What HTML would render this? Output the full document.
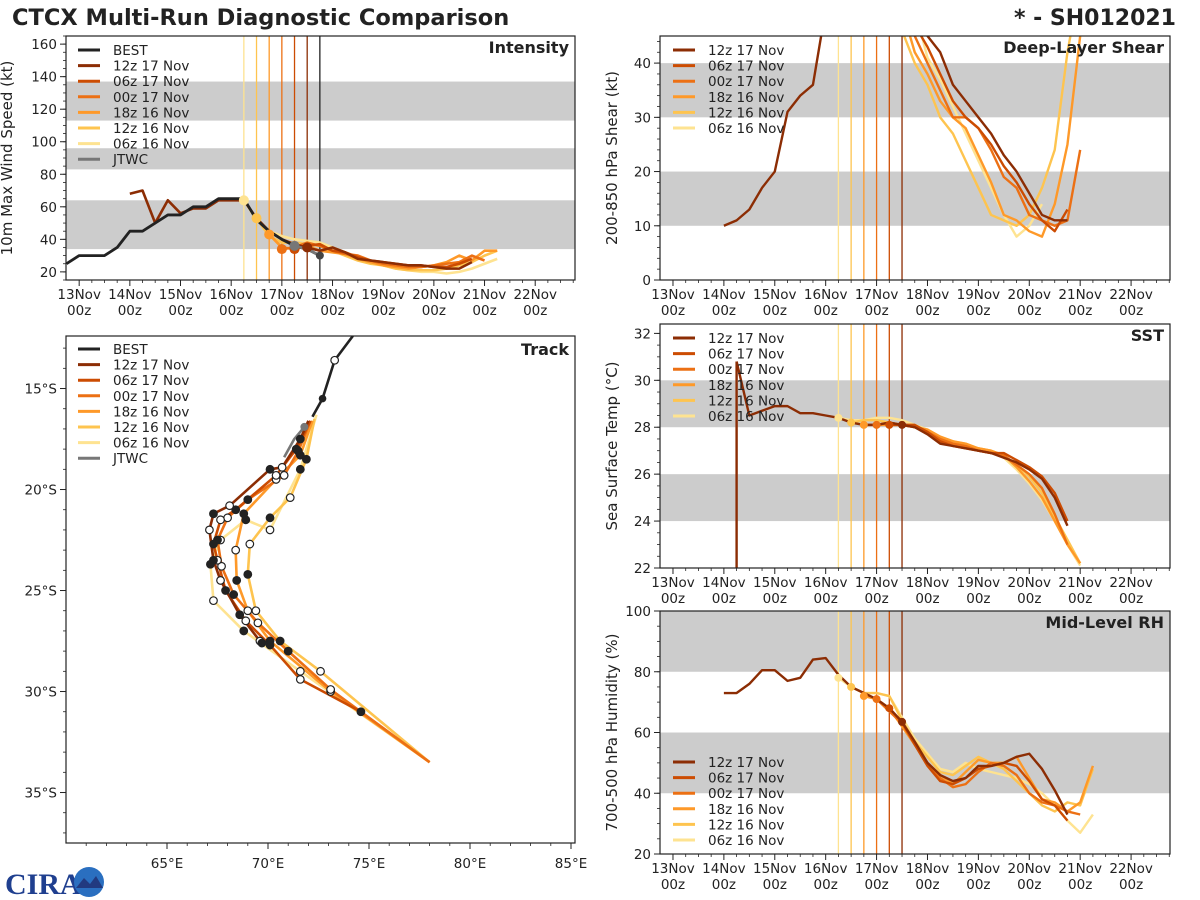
<!DOCTYPE html>
<html><head><meta charset="utf-8"><style>
html,body{margin:0;padding:0;background:#fff;}
svg{display:block;font-family:"DejaVu Sans","Liberation Sans",sans-serif;}
</style></head><body>
<svg id="chart" width="1200" height="900" viewBox="0 0 1200 900" xmlns="http://www.w3.org/2000/svg">
<text x="12" y="25" font-size="22.5" font-weight="bold" fill="#222">CTCX Multi-Run Diagnostic Comparison</text>
<text x="1176" y="25" font-size="22" font-weight="bold" fill="#222" text-anchor="end">* - SH012021</text>
<g id="logo">
<text x="5" y="894" font-size="30" font-weight="bold" fill="#1f3f8f" font-family="Liberation Serif, serif">CIRA</text>
<circle cx="89" cy="882" r="15" fill="#2a6fc0"/>
<path d="M76 888 L84 878 L90 884 L96 876 L103 888 Z" fill="#223a80"/>
</g>
</svg>
<script>
const runNames = ["12z 17 Nov","06z 17 Nov","00z 17 Nov","18z 16 Nov","12z 16 Nov","06z 16 Nov"];
const runColors = ["#8c2d04","#cc4c02","#ec7014","#fe9929","#fec44f","#fee391"];
const runInit = [17.5,17.25,17.0,16.75,16.5,16.25];
const dayLabels = ["13Nov","14Nov","15Nov","16Nov","17Nov","18Nov","19Nov","20Nov","21Nov","22Nov"];

const bestStart = 12.75;
const bestVmax = [25,30,30,30,35,45,45,50,55,55,60,60,65,65,65,52,45,40,36,34,30];
const jtwcStart = 17.25;
const jtwcVmax = [36,34,30];

const intStart = [14.0,17.25,17.0,16.75,16.5,16.25];
const int12z17 = [68,70,50,64,56,59,59,64,64,64,53,45,40,37,35,33,35,32,28,27,26,25,24,24,23,22,22,26];
const int06z17 = [34,36,37,33,32,29,27,26,25,24,24,23,23,25,28];
const int00z17 = [34,35,38,36,33,31,30,27,25,24,23,23,24,25,26,30,27];
const int18z16 = [43,35,34,36,33,32,31,28,26,24,23,22,23,24,26,30,27,33,33];
const int12z16 = [53,42,38,38,37,36,33,30,27,25,24,22,21,21,21,22,24,26,30,33];
const int06z16 = [64,52,45,42,40,39,38,35,32,29,26,24,22,21,20,20,19,20,22,25,28];

const shrStart = [14.0,17.25,17.0,16.75,16.5,16.25];
const shr12z17 = [10,11,13,17,20,31,34,36,50,60,60,60,60,60,60,60,45,42,36,33,30,27,23,20,16,12,11,11];
const shr06z17 = [60,55,47,43,38,33,30,28,25,21,18,14,11,9,13];
const shr00z17 = [60,60,55,45,40,35,30,30,28,24,19,17,12,11,10,11,24];
const shr18z16 = [60,60,60,50,42,38,33,30,28,23,18,12,11,9,8,14,25,45,55];
const shr12z16 = [60,60,60,60,46,40,36,30,27,22,17,12,11,10,12,17,24,42,55];
const shr06z16 = [60,60,60,60,60,60,50,41,37,32,27,22,17,12,8,10,14];

const sstSpike = [22.0,30.8];
const sstStart = [14.25,17.25,17.0,16.75,16.5,16.25];
const sst12z17 = [30.8,28.5,28.7,28.9,28.9,28.6,28.6,28.5,28.4,28.2,28.1,28.1,28.2,28.1,28.0,27.7,27.3,27.2,27.1,27.0,26.9,26.7,26.5,26.2,25.8,25.0,23.8];
const sst06z17 = [28.1,28.1,28.1,27.8,27.4,27.2,27.1,27.0,26.9,26.9,26.6,26.3,25.9,25.2,24.0];
const sst00z17 = [28.1,28.2,28.1,28.0,27.8,27.5,27.3,27.2,27.0,26.9,26.8,26.4,26.0,25.4,24.3,23.0];
const sst18z16 = [28.1,28.1,28.1,28.1,28.0,27.9,27.6,27.4,27.3,27.1,27.0,26.8,26.3,25.7,25.0,24.0,23.0,22.2];
const sst12z16 = [28.2,28.3,28.3,28.2,28.1,28.0,27.8,27.5,27.4,27.2,27.1,27.0,26.8,26.4,25.9,25.2,24.2,23.2,22.2];
const sst06z16 = [28.4,28.3,28.3,28.4,28.4,28.3,28.1,27.9,27.6,27.4,27.3,27.1,27.0,26.7,26.2,25.6,24.9,24.0,23.0,22.1];

const rhStart = [14.0,17.25,17.0,16.75,16.5,16.25];
const rh12z17 = [73,73,76,80.5,80.5,77,78,84,84.5,79,75,73,71,68,63.5,57,50,46,44,45,49,49,50,52,53,48,41,33];
const rh06z17 = [68,63.5,56,49,44,43,45,48,49,50,49,44,38,36,31];
const rh00z17 = [71,67,63,56,50,45,42,43,47,50,49,46,40,37,36,34,33];
const rh18z16 = [72,71,68,62,56,50,46,43,47,51,50,50,52,45,38,37,34,37,49];
const rh12z16 = [75,73,73,72,64,57,52,47,46,49,52,50,48,44,40,36,34,37,36,48];
const rh06z16 = [78,75,73,73,72,65,58,53,48,47,50,48,47,46,45,43,40,36,31,27,33];

const bestLon = [74.2,73.3,72.7,72.2];
const bestLat = [12.4,13.6,15.5,16.4];
const jtwcLon = [71.8,71.3,70.8];
const jtwcLat = [16.9,17.5,18.4];
const trk12z17Lon = [72.0,71.6,70.7,70.1,68.1,67.3,67.1,67.3,67.65,68.6,69.6,69.7];
const trk12z17Lat = [16.6,17.5,18.9,19.0,20.8,21.2,22.0,23.5,24.5,26.2,27.5,27.6];
const trk06z17Lon = [72.1,71.4,70.4,68.4,67.65,67.3,67.5,67.9,68.9,70.1,71.6,74.6];
const trk06z17Lat = [16.6,18.0,19.3,21.0,21.5,22.7,23.5,25.0,26.5,27.7,29.4,31.0];
const trk00z17Lon = [72.1,71.5,70.8,69.0,68.0,67.5,67.7,68.3,69.5,71.0,73.1,78.0];
const trk00z17Lat = [16.6,18.1,19.3,20.5,21.4,22.5,23.8,25.2,26.6,28.0,29.9,33.5];
const trk18z16Lon = [72.2,71.6,70.4,68.8,68.4,68.45,69.0,70.1,73.1,78.0];
const trk18z16Lat = [16.6,18.3,19.5,21.2,23.0,24.5,26.0,27.5,30.0,33.5];
const trk12z16Lon = [72.3,71.9,71.1,70.1,69.1,69.0,69.4,70.6,72.6,78.0];
const trk12z16Lat = [16.5,18.5,20.4,21.4,22.7,24.2,26.0,27.5,29.0,33.5];
const trk06z16Lon = [72.4,71.6,70.1,68.9,67.65,67.15,67.3,68.8,71.6,78.0];
const trk06z16Lat = [16.3,19.0,22.0,21.5,22.5,23.7,25.5,27.0,29.0,33.5];

const NS="http://www.w3.org/2000/svg";
const svg=document.getElementById('chart');
function el(tag,attrs,parent){const e=document.createElementNS(NS,tag);for(const k in attrs)e.setAttribute(k,attrs[k]);(parent||svg).appendChild(e);return e;}
function txt(s,attrs,parent){const e=el('text',attrs,parent);e.textContent=s;return e;}

function panel(name,L,T,W,H,ymin,ymax,bands,yt,yMinor,ylab,title,isTime,txmin,pxd,labOff){
  const g=el('g',{});
  
  
  const y=v=>T+H-(v-ymin)/(ymax-ymin)*H;
  const x=t=>L+(t-txmin)*pxd;
  const clipId='clip-'+name;
  const cp=el('clipPath',{id:clipId},g);el('rect',{x:L,y:T,width:W,height:H},cp);
  const inner=el('g',{'clip-path':'url(#'+clipId+')'},g);
  bands.forEach(b=>{const r=el('rect',{x:L,y:y(b[1]),width:W,height:y(b[0])-y(b[1]),fill:'#cccccc'},inner);
    
    });
  for(let v=Math.ceil(ymin/yMinor)*yMinor;v<=ymax+1e-9;v+=yMinor){el('line',{x1:L-3,x2:L,y1:y(v),y2:y(v),stroke:'#222','stroke-width':0.8},g);}
  yt.forEach(v=>{el('line',{x1:L-6,x2:L,y1:y(v),y2:y(v),stroke:'#222','stroke-width':1},g);
    const t=txt(v,{x:L-9,y:y(v)+5,'font-size':13.5,'text-anchor':'end',fill:'#222'},g);
    
    });
  if(isTime){
    dayLabels.forEach((d,i)=>{const xx=x(13+i);
      el('line',{x1:xx,x2:xx,y1:T+H,y2:T+H+6,stroke:'#222'},g);
      for(let q=1;q<4;q++){const xm=x(13+i+q*0.25);if(xm<L+W)el('line',{x1:xm,x2:xm,y1:T+H,y2:T+H+3,stroke:'#222','stroke-width':0.8},g);}
      const t1=txt(d,{x:xx,y:T+H+19,'font-size':13.5,'text-anchor':'middle',fill:'#222'},g);
      
      
      txt('00z',{x:xx,y:T+H+35,'font-size':13.5,'text-anchor':'middle',fill:'#222'},g);});
  }
  const yl=txt(ylab,{x:0,y:0,'font-size':15,'text-anchor':'middle',fill:'#222',transform:`translate(${L-labOff},${T+H/2}) rotate(-90)`},g);
  
  
  return {g,inner,x,y,L,T,W,H,title};
}
function finish(p){
  el('rect',{x:p.L,y:p.T,width:p.W,height:p.H,fill:'none',stroke:'#222','stroke-width':1.2},p.g);
  const t=txt(p.title,{x:p.L+p.W-6,y:p.T+17,'font-size':16,'font-weight':'bold','text-anchor':'end',fill:'#222'},p.g);
  
  
}
function series(p,start,vals,color,w){
  const pts=vals.map((v,i)=>p.x(start+i*0.25)+','+p.y(v)).join(' ');
  const l=el('polyline',{points:pts,fill:'none',stroke:color,'stroke-width':w||2.6,'stroke-linejoin':'round'},p.inner);
  
  
  return l;
}
function initLines(p,withBest){
  runInit.slice().reverse().forEach((t,i)=>{const c=runColors[5-i];
    el('line',{x1:p.x(t),x2:p.x(t),y1:p.T,y2:p.T+p.H,stroke:c,'stroke-width':1.3},p.inner);});
  if(withBest)el('line',{x1:p.x(17.75),x2:p.x(17.75),y1:p.T,y2:p.T+p.H,stroke:'#222','stroke-width':1.3},p.inner);
}
function legend(p,x0,y0,items){
  items.forEach((it,i)=>{const yy=y0+i*15.6;
    const g=el('g',{},p.g);
    
    
    el('line',{x1:x0,x2:x0+22,y1:yy,y2:yy,stroke:it[1],'stroke-width':3},g);
    txt(it[0],{x:x0+35,y:yy+5,'font-size':13.5,fill:'#222'},g);});
}
const runLegend=runNames.map((n,i)=>[n,runColors[i]]);
const leftLegend=[["BEST","#222"]].concat(runLegend).concat([["JTWC","#777"]]);

// Intensity
const pI=panel('intensity',66,36,509,244,15,165,[[34,64],[83,96],[113,137]],[20,40,60,80,100,120,140,160],5,'10m Max Wind Speed (kt)','Intensity',true,12.74,50.67,54);
initLines(pI,true);
const intVals=[int12z17,int06z17,int00z17,int18z16,int12z16,int06z16];
for(let i=5;i>=0;i--){series(pI,intStart[i],intVals[i],runColors[i],2.6);}
series(pI,bestStart,bestVmax,'#222',2.8);
series(pI,jtwcStart,jtwcVmax,'#777',2.8);
for(let i=5;i>=0;i--){const v=intVals[i][Math.round((runInit[i]-intStart[i])/0.25)];
  el('circle',{cx:pI.x(runInit[i]),cy:pI.y(v),r:5,fill:runColors[i]},pI.inner);}
el('circle',{cx:pI.x(17.25),cy:pI.y(36),r:5,fill:'#777'},pI.inner);
el('circle',{cx:pI.x(17.75),cy:pI.y(30),r:4,fill:'#444'},pI.inner);
legend(pI,78,50,leftLegend);
finish(pI);

// Track
(function(){
  const L=66,T=336,W=509,H=507;
  const g=el('g',{});
  
  
  const x=lon=>L+(lon-60)*20.2;
  const y=lat=>T+(lat-12.4)*20.2;
  const cp=el('clipPath',{id:'clip-track'},g);el('rect',{x:L,y:T,width:W,height:H},cp);
  const inner=el('g',{'clip-path':'url(#clip-track)'},g);
  for(let lon=61;lon<=85;lon++){const xx=x(lon);const major=lon%5===0;
    el('line',{x1:xx,x2:xx,y1:T+H,y2:T+H+(major?6:3),stroke:'#222','stroke-width':major?1:0.8},g);
    if(major){const t=txt(lon+'°E',{x:xx,y:T+H+25,'font-size':13.5,'text-anchor':'middle',fill:'#222'},g);
      
      }}
  for(let lat=13;lat<=37;lat++){const yy=y(lat);const major=lat%5===0;
    el('line',{x1:L-(major?6:3),x2:L,y1:yy,y2:yy,stroke:'#222','stroke-width':major?1:0.8},g);
    if(major){const t=txt(lat+'°S',{x:L-9,y:yy+5,'font-size':13.5,'text-anchor':'end',fill:'#222'},g);
      
      }}
  const lons=[trk12z17Lon,trk06z17Lon,trk00z17Lon,trk18z16Lon,trk12z16Lon,trk06z16Lon];
  const lats=[trk12z17Lat,trk06z17Lat,trk00z17Lat,trk18z16Lat,trk12z16Lat,trk06z16Lat];
  function tr(lo,la,c,w){const l=el('polyline',{points:lo.map((v,i)=>x(v)+','+y(la[i])).join(' '),fill:'none',stroke:c,'stroke-width':w,'stroke-linejoin':'round'},inner);
    
    }
  for(let i=5;i>=0;i--)tr(lons[i],lats[i],runColors[i],2.6);
  tr(bestLon,bestLat,'#222',2.6);
  tr(jtwcLon,jtwcLat,'#777',2.6);
  for(let i=5;i>=0;i--)lons[i].forEach((v,j)=>{if(j===0)return;if(j===lons[i].length-1&&lats[i][j]>33)return;
    el('circle',{cx:x(v),cy:y(lats[i][j]),r:3.8,fill:j%2?'#222':'#fff',stroke:'#222','stroke-width':1.2},inner);});
  el('circle',{cx:x(bestLon[1]),cy:y(bestLat[1]),r:3.8,fill:'#fff',stroke:'#222','stroke-width':1.2},inner);
  el('circle',{cx:x(bestLon[2]),cy:y(bestLat[2]),r:3.8,fill:'#222'},inner);
  el('circle',{cx:x(jtwcLon[0]),cy:y(jtwcLat[0]),r:4,fill:'#777'},inner);
  el('rect',{x:L,y:T,width:W,height:H,fill:'none',stroke:'#222','stroke-width':1.2},g);
  const t=txt('Track',{x:L+W-6,y:T+19,'font-size':16,'font-weight':'bold','text-anchor':'end',fill:'#222'},g);
  
  
  legend({g},78,349,leftLegend);
})();

// Shear
const pS=panel('shear',660,36,510,244,0,45,[[10,20],[30,40]],[0,10,20,30,40],2,'200-850 hPa Shear (kt)','Deep-Layer Shear',true,12.745,50.9,43);
initLines(pS,false);
const shrVals=[shr12z17,shr06z17,shr00z17,shr18z16,shr12z16,shr06z16];
for(let i=5;i>=0;i--)series(pS,shrStart[i],shrVals[i],runColors[i],2.4);
legend(pS,673,50,runLegend);
finish(pS);

// SST
const pT=panel('sst',660,324,510,244,22,32.4,[[24,26],[28,30]],[22,24,26,28,30,32],0.5,'Sea Surface Temp (°C)','SST',true,12.745,50.9,43);
initLines(pT,false);
const sstVals=[sst12z17,sst06z17,sst00z17,sst18z16,sst12z16,sst06z16];
for(let i=5;i>=0;i--)series(pT,sstStart[i],sstVals[i],runColors[i],2.4);
el('line',{x1:pT.x(sstStart[0]),x2:pT.x(sstStart[0]),y1:pT.y(sstSpike[0]),y2:pT.y(sstSpike[1]),stroke:runColors[0],'stroke-width':2.4},pT.inner);
for(let i=5;i>=0;i--){const v=sstVals[i][Math.round((runInit[i]-sstStart[i])/0.25)];
  el('circle',{cx:pT.x(runInit[i]),cy:pT.y(v),r:4,fill:runColors[i]},pT.inner);}
legend(pT,673,338,runLegend);
finish(pT);

// RH
const pR=panel('rh',660,611,510,243,20,100,[[40,60],[80,100]],[20,40,60,80,100],5,'700-500 hPa Humidity (%)','Mid-Level RH',true,12.745,50.9,43);
initLines(pR,false);
const rhVals=[rh12z17,rh06z17,rh00z17,rh18z16,rh12z16,rh06z16];
for(let i=5;i>=0;i--)series(pR,rhStart[i],rhVals[i],runColors[i],2.4);
for(let i=5;i>=0;i--){const v=rhVals[i][Math.round((runInit[i]-rhStart[i])/0.25)];
  el('circle',{cx:pR.x(runInit[i]),cy:pR.y(v),r:4,fill:runColors[i]},pR.inner);}
legend(pR,673,762,runLegend);
finish(pR);
</script>
</body></html>
